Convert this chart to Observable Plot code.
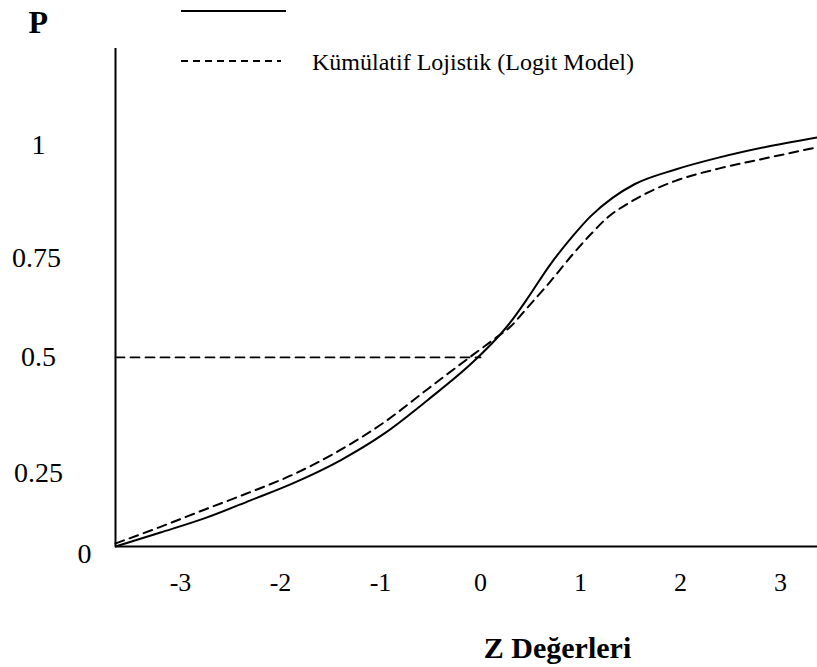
<!DOCTYPE html>
<html>
<head>
<meta charset="utf-8">
<script src="https://cdn.jsdelivr.net/npm/d3@7"></script>
<script src="https://cdn.jsdelivr.net/npm/@observablehq/plot@0.6"></script>
<style>
  html, body { margin: 0; padding: 0; background: #fff; }
  #wrap { position: relative; width: 817px; height: 667px; overflow: hidden; }
  #legend { position: absolute; left: 0; top: 0; }
</style>
</head>
<body>
<div id="wrap">
  <svg id="legend" width="817" height="90" xmlns="http://www.w3.org/2000/svg">
    <line x1="181" x2="286" y1="11" y2="11" stroke="#000" stroke-width="2"/>
    <line x1="181" x2="281" y1="61" y2="61" stroke="#000" stroke-width="2" stroke-dasharray="7,5"/>
    <text x="312" y="70" font-family="'Liberation Serif', 'Times New Roman', serif" font-size="24" fill="#000">Kümülatif Lojistik (Logit Model)</text>
  </svg>
</div>
<script>
// ---- data ----
const zDomain = [-3.65, 3.37];
const pDomain = [0, 1.317];
const xTicks = [-3, -2, -1, 0, 1, 2, 3];
const yTicks = [0, 0.25, 0.5, 0.75, 1];

// solid curve (unlabelled in legend)
const zSolid = [-3.65, -3.2, -2.755, -2.3, -1.86, -1.4, -0.96, -0.52, -0.07, 0.16, 0.29, 0.47, 0.69, 0.92, 1.10, 1.32, 1.54, 1.95, 2.39, 2.84, 3.37];
const pSolid = [0, 0.037, 0.075, 0.122, 0.169, 0.228, 0.299, 0.389, 0.489, 0.550, 0.590, 0.656, 0.743, 0.820, 0.873, 0.922, 0.958, 0.997, 1.029, 1.056, 1.082];

// dashed curve: Kümülatif Lojistik (Logit Model)
const zDashed = [-3.65, -3.2, -2.755, -2.31, -1.86, -1.41, -0.96, -0.52, -0.07, 0.16, 0.29, 0.47, 0.69, 0.92, 1.10, 1.27, 1.50, 1.72, 1.95, 2.39, 2.84, 3.37];
const pDashed = [0.008, 0.052, 0.098, 0.143, 0.192, 0.254, 0.329, 0.418, 0.508, 0.553, 0.579, 0.632, 0.698, 0.772, 0.825, 0.870, 0.911, 0.942, 0.967, 1.000, 1.026, 1.056];

// reference line P = 0.5 from the P axis to Z = 0
const refZ = [-3.65, 0];
const refP = [0.5, 0.5];

const yLabel = "P";
const xLabel = "Z Değerleri";

const solid = zSolid.map((z, i) => ({z, p: pSolid[i]}));
const dashed = zDashed.map((z, i) => ({z, p: pDashed[i]}));
const ref = refZ.map((z, i) => ({z, p: refP[i]}));

const serif = "'Liberation Serif', 'Times New Roman', serif";

// the reference places its P tick labels a little off the tick positions
const yLabelStyle = new Map([
  [0,    {pad: 31, dy: 8}],
  [0.25, {pad: 77, dy: 21}],
  [0.5,  {pad: 77, dy: 0}],
  [0.75, {pad: 79, dy: -5}],
  [1,    {pad: 77, dy: -23}]
]);

const yAxes = yTicks.map(t => Plot.axisY({
  ticks: [t], tickSize: 0, tickPadding: yLabelStyle.get(t).pad, dy: yLabelStyle.get(t).dy,
  textAnchor: "middle", tickFormat: d => String(d), fontSize: 28, label: null
}));

const chart = Plot.plot({
  width: 817,
  height: 667,
  marginLeft: 115,
  marginRight: 0,
  marginTop: 48,
  marginBottom: 121,
  style: {fontFamily: serif, background: "transparent", color: "#000", overflow: "visible"},
  x: {domain: zDomain},
  y: {domain: pDomain},
  marks: [
    Plot.axisX({ticks: xTicks, tickSize: 0, tickPadding: 26, tickFormat: d => String(d), fontSize: 26, label: null}),
    ...yAxes,
    Plot.ruleY([pDomain[0]], {stroke: "#000", strokeWidth: 2}),
    Plot.ruleX([zDomain[0]], {stroke: "#000", strokeWidth: 2}),
    Plot.line(ref, {x: "z", y: "p", stroke: "#000", strokeWidth: 1.8, strokeDasharray: "9,6"}),
    Plot.line(dashed, {x: "z", y: "p", curve: "monotone-x", stroke: "#000", strokeWidth: 2, strokeDasharray: "9,6"}),
    Plot.line(solid, {x: "z", y: "p", curve: "monotone-x", stroke: "#000", strokeWidth: 2}),
    Plot.text([yLabel], {text: d => d, frameAnchor: "top-left", dx: -87, dy: -38, lineAnchor: "top", textAnchor: "start", fontSize: 32, fontWeight: "bold", fill: "#000"}),
    Plot.text([xLabel], {text: d => d, frameAnchor: "bottom", dx: 91, dy: 90, lineAnchor: "top", textAnchor: "middle", fontSize: 30, fontWeight: "bold", fill: "#000"})
  ]
});
chart.style.position = "absolute";
chart.style.left = "0";
chart.style.top = "0";
document.getElementById("wrap").insertBefore(chart, document.getElementById("legend"));
</script>
</body>
</html>
